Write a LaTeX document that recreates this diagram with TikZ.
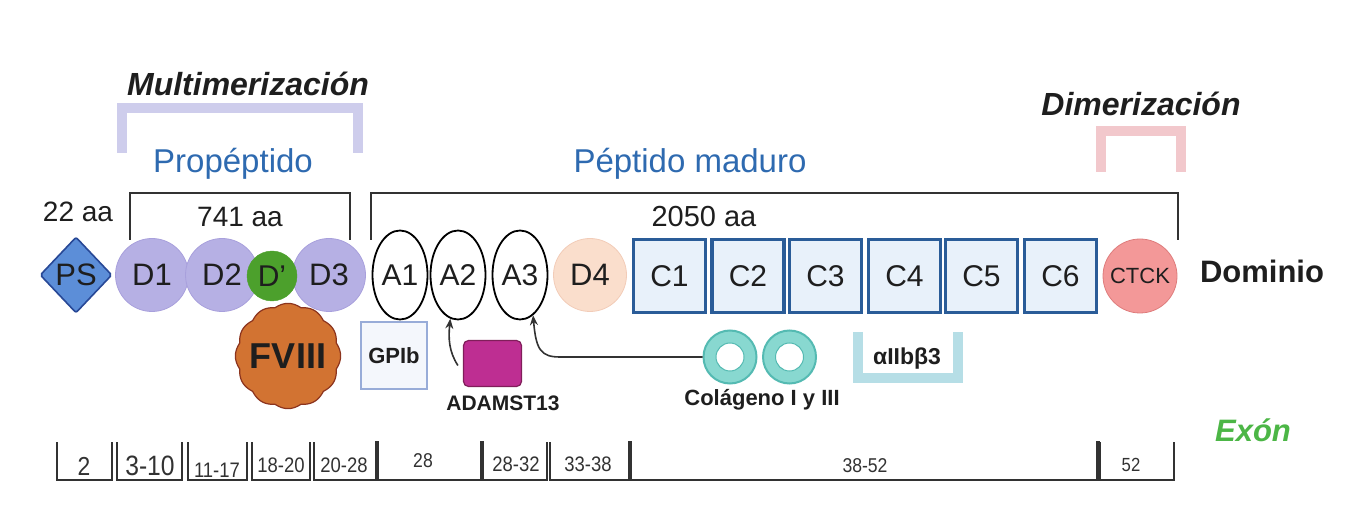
\documentclass[tikz,border=0pt]{standalone}
\usepackage{fontspec}
\setmainfont{Liberation Sans}
\newfontfamily\narrowfont[FakeStretch=0.88]{Liberation Sans}
\usetikzlibrary{shapes.geometric,arrows.meta}

\definecolor{lav}{RGB}{206,205,236}
\definecolor{pblue}{RGB}{46,106,176}
\definecolor{psfill}{RGB}{92,142,216}
\definecolor{psborder}{RGB}{40,72,150}
\definecolor{dfill}{RGB}{182,176,228}
\definecolor{dborder}{RGB}{168,160,220}
\definecolor{dgreen}{RGB}{76,160,44}
\definecolor{d4fill}{RGB}{250,222,204}
\definecolor{d4border}{RGB}{242,204,184}
\definecolor{cfill}{RGB}{232,241,250}
\definecolor{cborder}{RGB}{42,92,152}
\definecolor{ctfill}{RGB}{243,152,152}
\definecolor{ctborder}{RGB}{222,124,124}
\definecolor{pinkbr}{RGB}{242,200,204}
\definecolor{gpfill}{RGB}{244,247,252}
\definecolor{gpborder}{RGB}{152,172,216}
\definecolor{fvfill}{RGB}{210,115,50}
\definecolor{fvborder}{RGB}{140,52,30}
\definecolor{adfill}{RGB}{190,46,146}
\definecolor{adborder}{RGB}{128,30,90}
\definecolor{ringfill}{RGB}{136,216,208}
\definecolor{ringborder}{RGB}{84,186,178}
\definecolor{aiibbr}{RGB}{182,222,230}
\definecolor{exgreen}{RGB}{76,182,70}
\definecolor{dkgray}{RGB}{50,50,50}
\definecolor{txt}{RGB}{30,30,30}

\begin{document}
\begin{tikzpicture}[x=1pt,y=-1pt,
  fs/.style={font=\fontsize{#1}{#1}\selectfont},
  lbl/.style={anchor=base,inner sep=0pt,text=txt},
  dom/.style={circle,minimum size=73pt,inner sep=0pt,fill=dfill,draw=dborder,line width=0.8pt,text=txt,font=\fontsize{31}{31}\selectfont},
  aell/.style={ellipse,minimum width=55pt,minimum height=89pt,inner sep=0pt,draw=black,fill=white,line width=1.8pt,text=txt,font=\fontsize{30}{30}\selectfont},
  cbox/.style={rectangle,minimum width=72pt,minimum height=73pt,inner sep=0pt,fill=cfill,draw=cborder,line width=3.2pt,text=txt,font=\fontsize{30}{30}\selectfont},
  brk/.style={draw=dkgray,line width=2.2pt},
  wide/.style={line width=10pt},
  exseg/.style={draw=dkgray,line width=1.8pt},
  exthick/.style={draw=dkgray,line width=4pt},
  exlbl/.style={anchor=base,inner sep=0pt,text=dkgray},
  ring/.style={circle,minimum size=53pt,inner sep=0pt,fill=ringfill,draw=ringborder,line width=2pt},
  arr/.style={draw=dkgray,line width=1.6pt,-{Stealth[length=10pt,width=8pt]}}
]
\useasboundingbox (0,0) rectangle (1357,518);

% top brackets
\draw[wide,draw=lav] (122,153) |- (358,108) -- (358,153);
\draw[wide,draw=pinkbr] (1101,172) |- (1181,131) -- (1181,172);
\node[lbl,font=\bfseries\itshape\fontsize{32}{32}\selectfont] (multi) at (248,96) {Multimerización};
\node[lbl,font=\bfseries\itshape\fontsize{32}{32}\selectfont] (dimer) at (1141,116) {Dimerización};
\node[lbl,text=pblue,fs=33] (prop) at (233,173) {Propéptido};
\node[lbl,text=pblue,fs=33] (madu) at (690,173) {Péptido maduro};

% aa brackets
\draw[brk] (130,240) |- (350,193) -- (350,240);
\draw[brk] (371,240) |- (1178,193) -- (1178,240);
\node[lbl,fs=28] (aa22) at (78,222) {22 aa};
\node[lbl,fs=28] (aa741) at (240,227) {741 aa};
\node[lbl,fs=29] (aa2050) at (704,227) {2050 aa};

% domains
\node[diamond,minimum width=72pt,minimum height=76pt,inner sep=0pt,fill=psfill,draw=psborder,line width=1.6pt,rounded corners=2pt,text=txt,fs=31] (ps) at (76,275) {PS};
\node[dom] (d1) at (152,275) {D1};
\node[dom] (d2) at (222,275) {D2};
\node[dom] (d3) at (329,275) {D3};
\node[circle,minimum size=50pt,inner sep=0pt,fill=dgreen,draw=dgreen,text=txt,fs=30] (dp) at (272,276) {D'};
\node[aell] (a1) at (400,275) {A1};
\node[aell] (a2) at (458,275) {A2};
\node[aell] (a3) at (520,275) {A3};
\node[circle,minimum size=73pt,inner sep=0pt,fill=d4fill,draw=d4border,line width=0.8pt,text=txt,fs=31] (d4) at (590,275) {D4};
\node[cbox] (c1) at (669.5,276) {C1};
\node[cbox] (c2) at (748,276) {C2};
\node[cbox] (c3) at (825.5,276) {C3};
\node[cbox] (c4) at (904.5,276) {C4};
\node[cbox] (c5) at (981.5,276) {C5};
\node[cbox] (c6) at (1060.5,276) {C6};
\node[circle,minimum size=74pt,inner sep=0pt,fill=ctfill,draw=ctborder,line width=0.8pt,text=txt,fs=22] (ctck) at (1140,276) {CTCK};
\node[lbl,font=\bfseries\fontsize{31}{31}\selectfont] (dominio) at (1262,283) {Dominio};

% ligands
\draw[fill=fvfill,draw=fvborder,line width=1.2pt,shift={(288,356)}]
  plot[domain=0:360,samples=361,variable=\t] ({(50+2.6*abs(cos(6*\t)))*cos(\t)},{(50+2.6*abs(cos(6*\t)))*sin(\t)}) -- cycle;
\node[inner sep=0pt,text=txt,font=\bfseries\fontsize{36}{36}\selectfont] (fviii) at (288,356) {FVIII};

\node[rectangle,minimum width=66pt,minimum height=67pt,inner sep=0pt,fill=gpfill,draw=gpborder,line width=2.4pt,text=txt,font=\bfseries\fontsize{22}{22}\selectfont] (gpib) at (394,355.5) {GPIb};

\node[rectangle,rounded corners=5pt,minimum width=58pt,minimum height=46pt,inner sep=0pt,fill=adfill,draw=adborder,line width=1.2pt] (adam) at (492.5,363.5) {};
\node[lbl,font=\bfseries\fontsize{21}{21}\selectfont] (adamlbl) at (503,410) {ADAMST13};

\node[ring] (col1) at (730,357) {};
\node[ring] (col2) at (789.5,357) {};
\draw[fill=white,draw=ringborder,line width=1pt] (col1.center) circle[radius=14];
\draw[fill=white,draw=ringborder,line width=1pt] (col2.center) circle[radius=14];
\node[lbl,font=\bfseries\fontsize{22}{22}\selectfont] (colabl) at (762,405) {Colágeno I y III};

\draw[wide,draw=aiibbr] (858,332) |- (958,378) -- (958,332);
\node[lbl,font=\bfseries\fontsize{23}{23}\selectfont] (aiib) at (907,365) {αIIbβ3};

% arrows
\draw[arr] ([xshift=-5pt,yshift=-2pt]adam.west) .. controls +(-9,-14) and +(-2,20) .. (a2.-100);
\coordinate (bend) at (560,357);
\draw[arr] (col1.west) -- (bend) .. controls (541,357) and (536,350) .. (a3.-72);

% exons
\draw[exseg] (57,442) |- (112,480) -- (112,442);
\draw[exseg] (117,442) |- (182,480) -- (182,442);
\draw[exseg] (188,442) |- (247,480) -- (247,442);
\draw[exseg] (252,442) |- (310,480) -- (310,442);
\draw[exseg] (314,442) |- (377,480);
\draw[exseg] (377,480) -- (482,480);
\draw[exseg] (482,480) -- (547,480) -- (547,442);
\draw[exseg] (550,442) |- (630,480);
\draw[exseg] (630,480) -- (1098,480);
\draw[exseg] (1100,442) |- (1174,480) -- (1174,442);
\draw[exthick] (377,441) -- (377,481);
\draw[exthick] (482,441) -- (482,481);
\draw[exthick] (630,441) -- (630,481);
\draw[exthick] (1098,441) -- (1098,481);

\node[exlbl,font=\narrowfont\fontsize{26}{26}\selectfont] (e1) at (84,475) {2};
\node[exlbl,font=\narrowfont\fontsize{28}{28}\selectfont] (e2) at (150,475) {3-10};
\node[exlbl,font=\narrowfont\fontsize{21}{21}\selectfont] (e3) at (217,477) {11-17};
\node[exlbl,font=\narrowfont\fontsize{21}{21}\selectfont] (e4) at (281,472) {18-20};
\node[exlbl,font=\narrowfont\fontsize{21}{21}\selectfont] (e5) at (344,472) {20-28};
\node[exlbl,font=\narrowfont\fontsize{20}{20}\selectfont] (e6) at (423,467) {28};
\node[exlbl,font=\narrowfont\fontsize{21}{21}\selectfont] (e7) at (516,471) {28-32};
\node[exlbl,font=\narrowfont\fontsize{21}{21}\selectfont] (e8) at (588,471) {33-38};
\node[exlbl,font=\narrowfont\fontsize{20}{20}\selectfont] (e9) at (865,472) {38-52};
\node[exlbl,font=\narrowfont\fontsize{19}{19}\selectfont] (e10) at (1131,471) {52};
\node[lbl,text=exgreen,font=\bfseries\itshape\fontsize{31}{31}\selectfont] (exon) at (1253,441) {Exón};
\end{tikzpicture}
\end{document}
